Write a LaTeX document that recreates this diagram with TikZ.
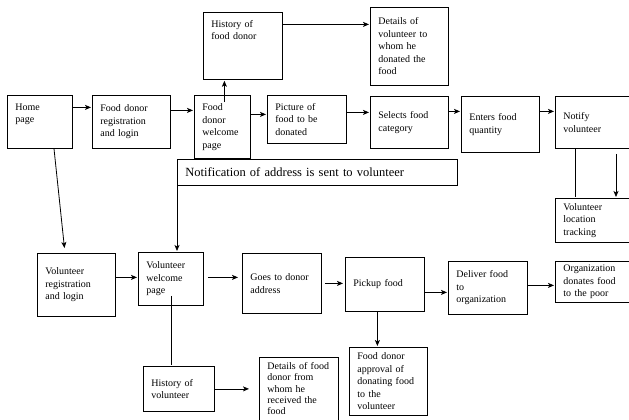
\documentclass[tikz,border=0pt]{standalone}
\usepackage{fontspec}
\setmainfont{Liberation Serif}
\usetikzlibrary{arrows.meta,positioning}

\tikzset{
  blk/.style={draw, line width=0.8pt, anchor=north west, align=left,
    inner xsep=8pt, inner ysep=4pt, font=\fontsize{10}{12.5}\selectfont},
  link/.style={line width=0.8pt}
}

\begin{document}
\begin{tikzpicture}[x=1pt,y=-1pt,>={Stealth[length=6pt,width=5pt,inset=1.5pt]},shorten >=1pt]
      \useasboundingbox (0,0) rectangle (629,420);

      % food donor side
      \node[blk,text width=49pt,text height=11pt,text depth=34pt] (home) at (7,95) {Home\\page};
      \node[blk,text width=62pt,minimum height=53pt] (dreg) at (92,95) {Food donor\\registration\\and login};
      \node[blk,text width=40pt,minimum height=63pt] (dwel) at (194,95) {Food\\donor\\welcome\\page};
      \node[blk,text width=63pt,text height=11pt,text depth=48pt] (dhist) at (203,12) {History of\\food donor};
      \node[blk,text width=62pt,minimum height=78pt] (dvol) at (370,7) {Details of\\volunteer to\\whom he\\donated the\\food};
      \node[blk,text width=63pt,minimum height=48pt] (pic) at (267,95) {Picture of\\food to be\\donated};
      \node[blk,text width=62pt,minimum height=52pt] (sel) at (370,96) {Selects food\\category};
      \node[blk,text width=62pt,minimum height=56pt] (qty) at (461,96) {Enters food\\quantity};
      \node[blk,text width=74pt,minimum height=52pt] (notify) at (555,96) {Notify\\volunteer};
      \node[blk,text width=74pt,minimum height=44pt,inner ysep=3pt] (track) at (555,198) {Volunteer\\location\\tracking};
      \node[blk,text width=264pt,minimum height=26pt,font=\fontsize{12.5}{14}\selectfont] (notif) at (177,159) {Notification of address is sent to volunteer};

      % volunteer side
      \node[blk,text width=62pt,minimum height=63pt] (vreg) at (37,253) {Volunteer\\registration\\and login};
      \node[blk,text width=49pt,minimum height=53pt] (vwel) at (138,252) {Volunteer\\welcome\\page};
      \node[blk,text width=63pt,minimum height=60pt] (goes) at (242,253) {Goes to donor\\address};
      \node[blk,text width=63pt,minimum height=54pt] (pick) at (345,257) {Pickup food};
      \node[blk,text width=63pt,minimum height=53pt] (deliv) at (448,261) {Deliver food\\to\\organization};
      \node[blk,text width=74pt,minimum height=41pt,inner ysep=2pt] (org) at (555,261) {Organization\\donates food\\to the poor};
      \node[blk,text width=55pt,minimum height=45pt] (vhist) at (143,366) {History of\\volunteer};
      \node[blk,text width=63pt,inner ysep=3pt,text height=9pt,text depth=55pt,font=\fontsize{10}{11.3}\selectfont] (ddon) at (259,357) {Details of food\\donor from\\whom he\\received the\\food};
      \node[blk,text width=62pt,minimum height=68pt,inner ysep=3pt] (appr) at (349,347) {Food donor\\approval of\\donating food\\to the\\volunteer};

      \path[->,link]
      ([yshift=14.5pt]home.east) edge ([yshift=14.5pt]home.east -| dreg.west)
      ([yshift=11.5pt]dreg.east) edge ([yshift=11.5pt]dreg.east -| dwel.west)
      ([yshift=12.5pt]dwel.east) edge ([yshift=12.5pt]dwel.east -| pic.west)
      ([yshift=7pt]pic.east) edge ([yshift=7pt]pic.east -| sel.west)
      ([yshift=11pt]sel.east) edge ([yshift=11pt]sel.east -| qty.west)
      ([yshift=13pt]qty.east) edge ([yshift=13pt]qty.east -| notify.west)
      ([yshift=21.5pt]dhist.east) edge ([yshift=21.5pt]dhist.east -| dvol.west)
      ([xshift=2pt,yshift=-7pt]dwel.north) edge ([xshift=2pt]dwel.north |- dhist.south)
      ([xshift=61pt,yshift=-5pt]notify.south west) edge ([xshift=61pt]track.north west)
      ([xshift=47pt]home.south west) edge[shorten >=5pt] ([xshift=28pt]vreg.north west)
      (notif.south west) edge (notif.south west |- vwel.north)

      ([yshift=7.5pt]vreg.east) edge ([yshift=7.5pt]vreg.east -| vwel.west)
      ([xshift=4pt,yshift=1.5pt]vwel.east) edge[shorten >=4pt] ([yshift=1.5pt]vwel.east -| goes.west)
      ([xshift=3pt]goes.east) edge[shorten >=2pt] (goes.east -| pick.west)
      ([yshift=-8pt]pick.east) edge ([yshift=-8pt]pick.east -| deliv.west)
      ([yshift=2.5pt]deliv.east) edge ([yshift=2.5pt]deliv.east -| org.west)
      ([xshift=-7.5pt]pick.south) edge ([xshift=-7.5pt]pick.south |- appr.north)
      (vhist.east) edge[shorten >=10pt] (vhist.east -| ddon.west)
      ;

      \draw[link] ([xshift=20pt]notify.south west) -- ([xshift=20pt]track.north west);
      \draw[link] ([xshift=33pt,yshift=10pt]vwel.south west) -- ([xshift=33pt]vwel.south west |- vhist.north);
    \end{tikzpicture}
\end{document}
